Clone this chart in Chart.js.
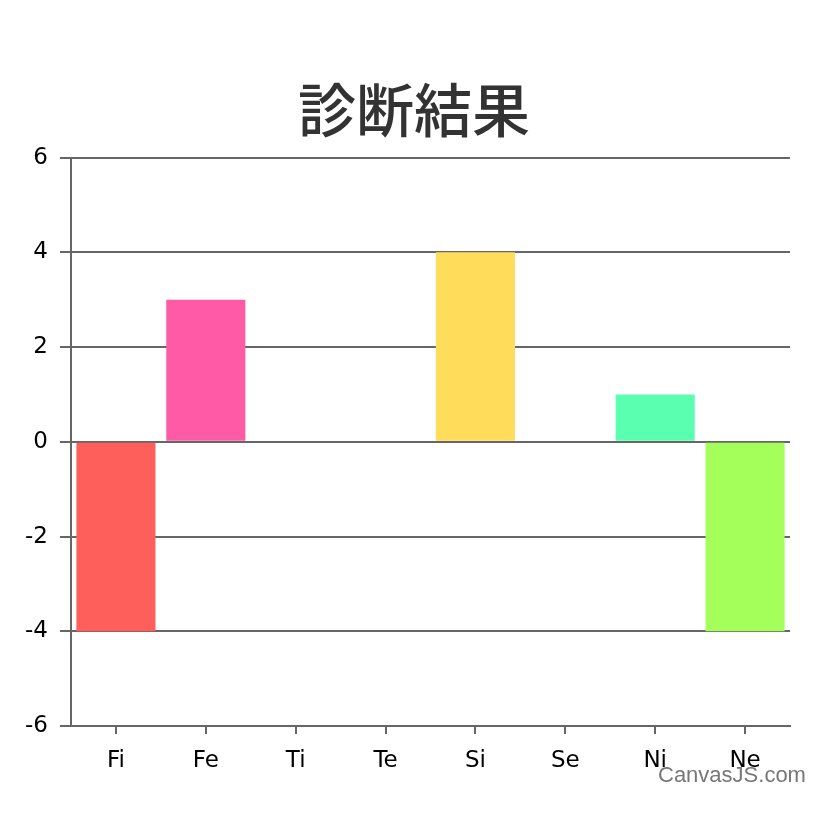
<!DOCTYPE html>
<html lang="ja">
<head>
  <meta charset="UTF-8">
  <title>診断結果</title>
  <script src="https://cdn.jsdelivr.net/npm/chart.js"></script>
  <style>
    html, body { margin: 0; padding: 0; background: #fff; }
    .wrap { position: relative; width: 828px; height: 822px; }
    /* little credit text in the corner, like the original */
    .credit {
      position: absolute; left: 658px; top: 762px;
      font: 22px "Liberation Sans", Arial, sans-serif; color: #777;
    }
  </style>
</head>
<body>
  <div class="wrap">
    <canvas id="resultChart" width="828" height="822"></canvas>
    <div class="credit">CanvasJS.com</div>
  </div>

  <script>
    // functions and scores
    const functions = ['Fi', 'Fe', 'Ti', 'Te', 'Si', 'Se', 'Ni', 'Ne'];
    const scores = [-4, 3, 0, 0, 4, 0, 1, -4];
    const barColors = ['#FF5F5A', '#FF5AA5', '#FFA55A', '#5AA5FF', '#FFDC5A', '#5AFFFF', '#5AFFAF', '#A5FF5A'];
    const yTicks = [-6, -4, -2, 0, 2, 4, 6];

    const gridColor = '#666666';
    const tickFont = { family: '"DejaVu Sans", sans-serif', size: 23 };

    // stretch the title box over the whole canvas so it is centred on the page
    const centreTitle = {
      id: 'centreTitle',
      afterLayout(chart) {
        if (chart.titleBlock) {
          chart.titleBlock.left = 0;
          chart.titleBlock.right = chart.width;
          chart.titleBlock.width = chart.width;
        }
      }
    };

    const ctx = document.getElementById('resultChart').getContext('2d');
    new Chart(ctx, {
      type: 'bar',
      data: {
        labels: functions,
        datasets: [{
          data: scores,
          backgroundColor: barColors,
          borderWidth: 0,
          barPercentage: 0.88,
          categoryPercentage: 1
        }]
      },
      options: {
        responsive: false,
        animation: false,
        layout: { padding: { left: 0, right: 38, top: 0, bottom: 0 } },
        plugins: {
          legend: { display: false },
          tooltip: { enabled: false },
          title: {
            display: true,
            text: '診断結果',
            color: '#333333',
            font: { family: '"Noto Sans CJK JP", sans-serif', size: 58, weight: 500, lineHeight: 1.2 },
            padding: { top: 75, bottom: 13 }
          }
        },
        scales: {
          x: {
            grid: { display: true, offset: false, drawOnChartArea: false, color: gridColor, lineWidth: 2, tickLength: 8 },
            border: { display: true, color: gridColor, width: 2 },
            ticks: { color: '#000', font: tickFont, padding: 13 },
            afterFit: (scale) => { scale.height = 96; }
          },
          y: {
            min: -6,
            max: 6,
            afterBuildTicks: (scale) => { scale.ticks = yTicks.map(v => ({ value: v })); },
            grid: { color: gridColor, lineWidth: 2, tickLength: 11 },
            border: { display: true, color: gridColor, width: 2 },
            ticks: { color: '#000', font: tickFont, padding: 12 },
            afterFit: (scale) => { scale.width = 71; }
          }
        }
      },
      plugins: [centreTitle]
    });
  </script>
</body>
</html>
